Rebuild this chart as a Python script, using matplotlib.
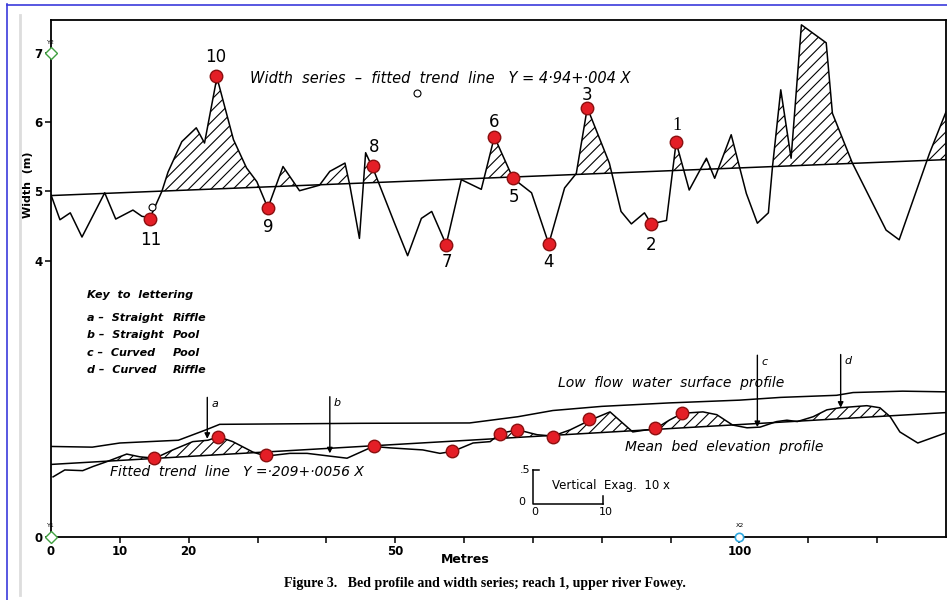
import matplotlib
matplotlib.use('Agg')
import matplotlib.pyplot as plt
from matplotlib.lines import Line2D
import numpy as np

# ---------------- data ----------------
# Width series (metres along reach, width in m)
width_x = [0, 1.3, 2.8, 4.5, 7.8, 9.4, 11.9, 13.2, 14.4, 16.1, 17.0, 19.0, 21.1, 22.3,
           24.1, 26.5, 28.4, 29.9, 31.5, 33.7, 36.1, 39.0, 40.5, 42.7, 43.4, 44.8,
           45.7, 46.9, 49.9, 51.8, 53.8, 55.3, 57.4, 59.6, 62.5, 64.4, 67.1, 69.8,
           72.3, 74.6, 76.3, 77.9, 81.1, 82.8, 84.3, 86.2, 87.2, 89.4, 90.8, 92.7,
           95.2, 96.4, 98.8, 101.0, 102.6, 104.2, 104.8, 106.0, 107.5, 109.0, 112.6,
           113.5, 116.4, 121.3, 123.2, 127.6, 130.0]
width_y = [4.95, 4.59, 4.69, 4.34, 4.98, 4.60, 4.73, 4.64, 4.62, 5.00, 5.28, 5.72, 5.92, 5.70,
           6.65, 5.75, 5.34, 5.14, 4.76, 5.36, 5.01, 5.09, 5.29, 5.41, 5.09, 4.32,
           5.56, 5.30, 4.54, 4.07, 4.61, 4.71, 4.23, 5.17, 5.03, 5.79, 5.19, 4.98,
           4.24, 5.05, 5.26, 6.21, 5.41, 4.71, 4.53, 4.69, 4.53, 4.58, 5.71, 5.02,
           5.48, 5.19, 5.82, 4.97, 4.54, 4.69, 5.36, 6.47, 5.48, 7.41, 7.15,
           6.13, 5.41, 4.44, 4.30, 5.55, 6.15]
width_trend_x = [0, 130]
width_trend_y = [4.94, 5.46]

# Low flow water surface profile (plotted on the same vertical scale)
water_x = [0, 6, 10, 18.5, 22.5, 24.5, 45, 60.8, 67.8, 72.9, 80, 89.8, 100, 106,
           114.1, 116.5, 123.7, 130]
water_y = [1.31, 1.30, 1.36, 1.40, 1.55, 1.63, 1.645, 1.65, 1.74, 1.83, 1.89, 1.94,
           1.98, 2.02, 2.05, 2.09, 2.11, 2.10]

# Bed profile
bed_x = [0.3, 2.0, 4.6, 6.1, 8.1, 11.0, 12.9, 15.1, 17.7, 20.6, 22.8, 24.3, 26.4, 29.3,
         31.2, 34.7, 37.2, 43.0, 46.8, 49.2, 54.0, 56.5, 58.4, 61.3, 63.8, 65.2, 67.8,
         70.6, 72.9, 75.4, 78.3, 81.2, 84.5, 86.5, 87.7, 89.8, 91.7, 94.7, 96.7, 99.0,
         101.1, 103.0, 105.4, 106.9, 108.4, 110.7, 112.7, 114.6, 118.5, 120.4, 121.9,
         123.3, 125.9, 129.8]
bed_y = [0.87, 0.97, 0.96, 1.02, 1.09, 1.20, 1.16, 1.14, 1.26, 1.38, 1.40, 1.45, 1.38, 1.23,
         1.17, 1.21, 1.21, 1.14, 1.31, 1.29, 1.26, 1.21, 1.24, 1.36, 1.38, 1.50, 1.55,
         1.48, 1.46, 1.55, 1.69, 1.81, 1.52, 1.55, 1.56, 1.69, 1.79, 1.81, 1.77, 1.62,
         1.58, 1.59, 1.67, 1.69, 1.67, 1.74, 1.84, 1.87, 1.90, 1.87, 1.74,
         1.52, 1.36, 1.50]
bed_trend_x = [0, 130]
bed_trend_y = [1.05, 1.80]

# Numbered points on the width series
num_labels = ['10', '11', '9', '8', '7', '6', '5', '4', '3', '2', '1']
num_x = [24.0, 14.4, 31.5, 46.8, 57.4, 64.4, 67.1, 72.3, 77.9, 87.2, 90.8]
num_y = [6.67, 4.60, 4.76, 5.37, 4.23, 5.79, 5.19, 4.24, 6.21, 4.53, 5.71]
num_lab_x = [23.9, 14.5, 31.6, 46.9, 57.5, 64.4, 67.2, 72.3, 77.9, 87.2, 90.9]
num_lab_y = [6.95, 4.30, 4.49, 5.64, 3.98, 6.00, 4.92, 3.98, 6.40, 4.23, 5.96]

# Corresponding points on the bed profile
bedpt_x = [14.95, 24.2, 31.2, 46.9, 58.3, 65.2, 67.7, 72.9, 78.2, 87.7, 91.7]
bedpt_y = [1.14, 1.45, 1.18, 1.32, 1.24, 1.49, 1.55, 1.45, 1.71, 1.58, 1.80]

# Arrows marking lettered features
arrow_lab = ['a', 'b', 'c', 'd']
arrow_x = [22.7, 40.5, 102.6, 114.7]
arrow_top = [2.02, 2.03, 2.63, 2.64]
arrow_tip = [1.42, 1.21, 1.59, 1.87]

key_letters = ['a', 'b', 'c', 'd']
key_first = ['Straight', 'Straight', 'Curved', 'Curved']
key_second = ['Riffle', 'Pool', 'Pool', 'Riffle']

xticks = [0, 10, 20, 30, 40, 50, 60, 70, 80, 90, 100, 110, 120]
xtick_labels = ['0', '10', '20', '', '', '50', '', '', '', '', '100', '', '']
yticks = [0, 4, 5, 6, 7]
ytick_labels = ['0', '4', '5', '6', '7']

# scale bar (metres horizontal, metres vertical)
scale_x = [70.0, 80.2]
scale_y = [0.48, 0.97]

# ---------------- figure ----------------
plt.rcParams['hatch.linewidth'] = 0.8
plt.rcParams['font.family'] = ['DejaVu Sans']

fig = plt.figure(figsize=(9.47, 6.0), dpi=100)
fig.patch.set_facecolor('white')

# page decorations (blue frame & scan edge)
fig.add_artist(Line2D([7/947, 7/947], [0, 1 - 4/600], color='#3b3bdc', lw=1.2))
fig.add_artist(Line2D([7/947, 1], [1 - 5/600, 1 - 5/600], color='#3b3bdc', lw=1.2))
fig.add_artist(Line2D([20/947, 20/947], [1 - 595/600, 1 - 15/600], color='#dddddd', lw=2))

ax = fig.add_axes([51/947, 63/600, 895/947, 517/600])
ax.set_xlim(0, 130)
ax.set_ylim(0, 7.48)
for s in ax.spines.values():
    s.set_linewidth(1.3)
    s.set_color('black')

# width series
wt = np.interp(width_x, width_trend_x, width_trend_y)
ax.fill_between(width_x, width_y, wt, where=np.array(width_y) > wt, interpolate=True,
                facecolor='none', edgecolor='black', hatch='///', linewidth=0)
ax.plot(width_x, width_y, color='black', lw=1.1)
ax.plot(width_trend_x, width_trend_y, color='black', lw=1.1)

# bed profile
bt = np.interp(bed_x, bed_trend_x, bed_trend_y)
ax.fill_between(bed_x, bed_y, bt, where=np.array(bed_y) > bt, interpolate=True,
                facecolor='none', edgecolor='black', hatch='///', linewidth=0)
ax.plot(bed_x, bed_y, color='black', lw=1.1)
ax.plot(bed_trend_x, bed_trend_y, color='black', lw=1.1)
ax.plot(water_x, water_y, color='black', lw=1.1)

# arrows
for lab, xx, yt, yb in zip(arrow_lab, arrow_x, arrow_top, arrow_tip):
    ax.annotate('', xy=(xx, yb), xytext=(xx, yt),
                arrowprops=dict(arrowstyle='-|>', color='black', lw=1.0,
                                mutation_scale=8, shrinkA=0, shrinkB=0))
    ax.text(xx + 0.6, yt - 0.02, lab, fontsize=8, style='italic', va='top', ha='left')

# red points
ax.plot(num_x, num_y, 'o', ms=9, mfc='#e41e26', mec='#8a1010', mew=1.0, zorder=5)
ax.plot(bedpt_x, bedpt_y, 'o', ms=9, mfc='#e41e26', mec='#8a1010', mew=1.0, zorder=5)
for lab, xx, yy in zip(num_labels, num_lab_x, num_lab_y):
    if lab == '1':
        ax.text(xx, yy, lab, fontsize=13, family='Liberation Serif', ha='center', va='center')
    else:
        ax.text(xx, yy, lab, fontsize=12, ha='center', va='center')

# small open circles
ax.plot([53.2, 14.6], [6.43, 4.77], 'o', ms=5, mfc='white', mec='black', mew=0.8, zorder=6)

# texts
ax.text(28.9, 6.63, 'Width  series  –  fitted  trend  line   Y = 4·94+·004 X',
        fontsize=10.5, style='italic', va='center', ha='left')
ax.text(5.2, 3.50, 'Key  to  lettering', fontsize=8, style='italic', weight='bold',
        va='center', ha='left')
for i, (l, f, s) in enumerate(zip(key_letters, key_first, key_second)):
    yy = [3.17, 2.92, 2.66, 2.42][i]
    ax.text(5.2, yy, f'{l} –  {f}', fontsize=8, style='italic', weight='bold',
            va='center', ha='left')
    ax.text(17.7, yy, s, fontsize=8, style='italic', weight='bold', va='center', ha='left')

ax.text(73.6, 2.23, 'Low  flow  water  surface  profile', fontsize=10, style='italic',
        va='center', ha='left')
ax.text(83.4, 1.30, 'Mean  bed  elevation  profile', fontsize=10, style='italic',
        va='center', ha='left')
ax.text(8.6, 0.94, 'Fitted  trend  line   Y =·209+·0056 X', fontsize=10, style='italic',
        va='center', ha='left')

# scale bar
ax.plot([scale_x[0], scale_x[0], scale_x[1]], [scale_y[1], scale_y[0], scale_y[0]],
        color='black', lw=1.1)
ax.plot([scale_x[0], scale_x[0] + 0.9], [scale_y[1], scale_y[1]], color='black', lw=1.1)
ax.plot([scale_x[1], scale_x[1]], [scale_y[0], scale_y[0] + 0.12], color='black', lw=1.1)
ax.text(scale_x[0] - 0.4, scale_y[1], '.5', fontsize=8, ha='right', va='center')
ax.text(scale_x[0] - 1.1, scale_y[0] + 0.02, '0', fontsize=8, ha='right', va='center')
ax.text(scale_x[0] + 0.2, scale_y[0] - 0.12, '0', fontsize=8, ha='center', va='center')
ax.text(scale_x[1] + 0.4, scale_y[0] - 0.12, '10', fontsize=8, ha='center', va='center')
ax.text(72.8, 0.74, 'Vertical  Exag.  10 x', fontsize=8.5, ha='left', va='center')

# axes ticks
ax.set_xticks(xticks)
ax.set_xticklabels(xtick_labels, fontsize=8.5, weight='bold')
ax.set_yticks(yticks)
ax.set_yticklabels(ytick_labels, fontsize=8.5, weight='bold')
ax.tick_params(direction='out', length=4, width=1.1, pad=2)
ax.text(-3.4, 5.09, 'Width  (m)', rotation=90, fontsize=8, weight='bold',
        ha='center', va='center', clip_on=False)
ax.text(60.1, -0.33, 'Metres', fontsize=9, weight='bold', ha='center', va='center',
        clip_on=False)
fig.text(485/947, 1 - 583/600,
         'Figure 3.   Bed profile and width series; reach 1, upper river Fowey.',
         fontsize=10, family='Liberation Serif', weight='bold', ha='center', va='center')

# digitiser calibration markers
ax.plot([0], [7], marker='D', ms=6, mfc='white', mec='#40a040', mew=1.0, clip_on=False, zorder=7)
ax.plot([0], [0], marker='D', ms=6, mfc='white', mec='#40a040', mew=1.0, clip_on=False, zorder=7)
ax.plot([100], [0], marker='o', ms=6, mfc='white', mec='#2ea8e0', mew=1.2, clip_on=False, zorder=7)
ax.text(0, 7.15, 'Y2', fontsize=4.5, ha='center', va='center', clip_on=False)
ax.text(0, 0.16, 'Y1', fontsize=4.5, ha='center', va='center', clip_on=False)
ax.text(100, 0.16, 'X2', fontsize=4.5, ha='center', va='center', clip_on=False)

fig.savefig('out.png', dpi=100)
